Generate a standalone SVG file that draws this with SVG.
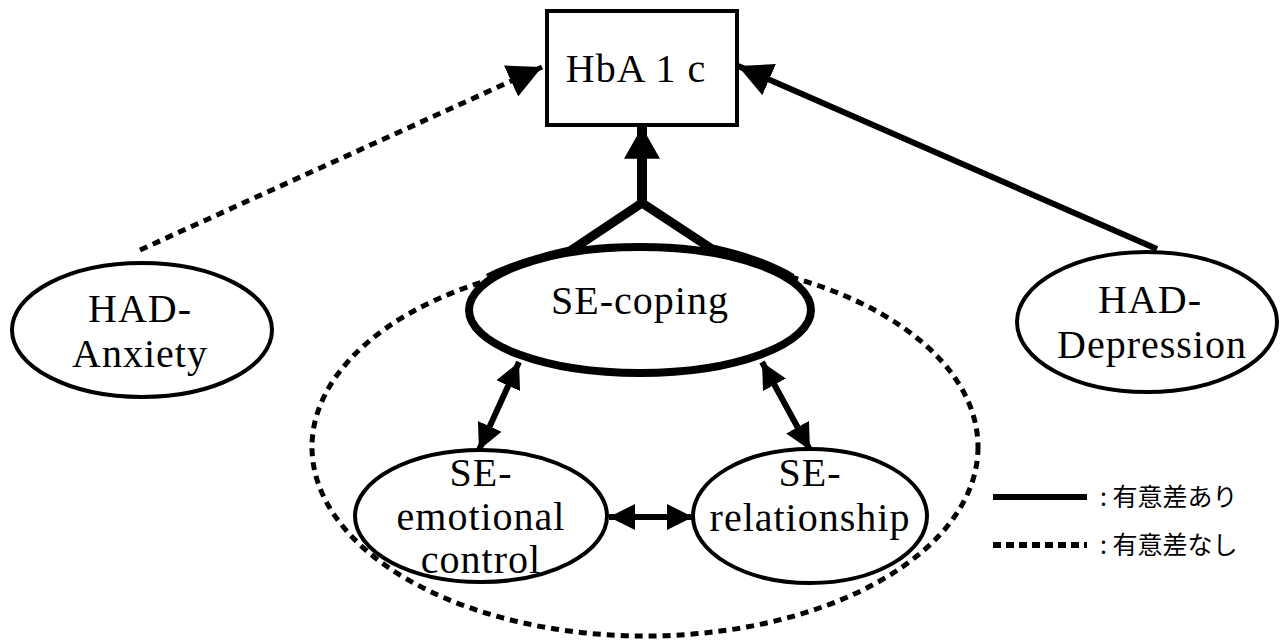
<svg xmlns="http://www.w3.org/2000/svg" width="1285" height="642" viewBox="0 0 1285 642">
<style>
.lbl{font-family:'Liberation Serif',serif;font-size:40px;letter-spacing:1px;text-anchor:middle;fill:#000}
.node{fill:#fff;stroke:#000;stroke-width:4}
.leg{font-family:'Noto Sans CJK JP','Noto Sans CJK SC',sans-serif;font-size:25px;fill:#000}
.dot{stroke:#000;stroke-width:5;fill:none;stroke-dasharray:8 6}
</style>
<defs>
<marker id="ah" markerUnits="userSpaceOnUse" markerWidth="34" markerHeight="34" viewBox="0 0 32 32" refX="32" refY="16" orient="auto"><path d="M0,0 L32,16 L0,32 z" fill="#000"/></marker>
<marker id="ahb" markerUnits="userSpaceOnUse" markerWidth="34" markerHeight="36" viewBox="0 0 30 34" refX="30" refY="17" orient="auto"><path d="M0,0 L30,17 L0,34 z" fill="#000"/></marker>
<marker id="as" markerUnits="userSpaceOnUse" markerWidth="26" markerHeight="26" viewBox="0 0 26 26" refX="26" refY="13" orient="auto"><path d="M0,0 L26,13 L0,26 z" fill="#000"/></marker>
<marker id="ass" markerUnits="userSpaceOnUse" markerWidth="26" markerHeight="26" viewBox="0 0 26 26" refX="0" refY="13" orient="auto"><path d="M26,0 L0,13 L26,26 z" fill="#000"/></marker>
</defs>

<g id="group-ellipse">
<ellipse class="dot" cx="645" cy="447" rx="333" ry="189"/>
</g>

<g id="connectors" stroke="#000" fill="none">
<line x1="140" y1="250" x2="542" y2="67" stroke-width="5" stroke-dasharray="8 6" marker-end="url(#ah)"/>
<line x1="1157" y1="249" x2="738" y2="66" stroke-width="6" marker-end="url(#ah)"/>
<line x1="642" y1="205" x2="642" y2="127" stroke-width="10" marker-end="url(#ahb)"/>
<path d="M488,278 Q520,262 570,251 L642,203 L712,249 Q762,260 792,278" stroke-width="9" stroke-linejoin="miter"/>
<line x1="519" y1="362" x2="479" y2="450" stroke-width="6" marker-start="url(#ass)" marker-end="url(#as)"/>
<line x1="762" y1="362" x2="810" y2="450" stroke-width="6" marker-start="url(#ass)" marker-end="url(#as)"/>
<line x1="609" y1="517" x2="693" y2="517" stroke-width="6" marker-start="url(#ass)" marker-end="url(#as)"/>
</g>

<g id="node-hba1c">
<rect class="node" x="547" y="11" width="190" height="114"/>
<text class="lbl" x="636" y="82">HbA 1 c</text>
</g>

<g id="node-se-coping">
<ellipse cx="640" cy="310" rx="171" ry="63" fill="#fff" stroke="#000" stroke-width="8"/>
<text class="lbl" x="640" y="314">SE-coping</text>
</g>

<g id="node-had-anxiety">
<ellipse class="node" cx="142" cy="330" rx="130" ry="67"/>
<text class="lbl" x="140" y="322">HAD-</text>
<text class="lbl" x="140" y="367">Anxiety</text>
</g>

<g id="node-had-depression">
<ellipse class="node" cx="1147" cy="322" rx="130" ry="70"/>
<text class="lbl" x="1150" y="313">HAD-</text>
<text class="lbl" x="1152" y="358">Depression</text>
</g>

<g id="node-se-emotional">
<ellipse class="node" cx="481" cy="516" rx="126" ry="66"/>
<text class="lbl" x="481" y="486">SE-</text>
<text class="lbl" x="481" y="530">emotional</text>
<text class="lbl" x="481" y="573">control</text>
</g>

<g id="node-se-relationship">
<ellipse class="node" cx="810" cy="516" rx="117" ry="67"/>
<text class="lbl" x="810" y="486">SE-</text>
<text class="lbl" x="810" y="531">relationship</text>
</g>

<g id="legend">
<line x1="993" y1="497" x2="1087" y2="497" stroke="#000" stroke-width="6"/>
<text class="leg" x="1100" y="506">: 有意差あり</text>
<line x1="993" y1="545" x2="1087" y2="545" stroke="#000" stroke-width="6" stroke-dasharray="8 5"/>
<text class="leg" x="1100" y="554">: 有意差なし</text>
</g>
</svg>
